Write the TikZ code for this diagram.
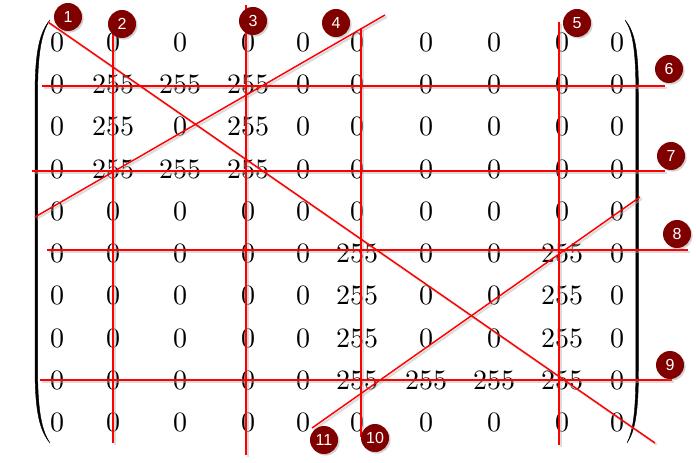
\documentclass[tikz,border=0pt]{standalone}
\usepackage{fontspec}
\newfontfamily\badgefont{Liberation Sans}
\newfontfamily\lmten{lmroman10-regular.otf}
\usetikzlibrary{shadows}
\definecolor{badgered}{HTML}{800000}
\tikzset{
  cell/.style={inner sep=0pt, font=\lmten\fontsize{21}{23}\selectfont},
  redline/.style={draw=red, line width=1.1pt},
  lineshadow/.style={draw=black!30, line width=1.6pt, opacity=0.45},
  badge/.style={circle, fill=badgered, minimum size=21pt, inner sep=0pt,
    text=white, font=\badgefont\fontsize{12}{13}\selectfont,
    drop shadow={shadow xshift=1.2pt, shadow yshift=-1.2pt, opacity=0.35}},
  paren/.style={fill=black, draw=black, line width=0.3pt}
}
\begin{document}
\begin{tikzpicture}[x=0.75pt, y=-0.75pt]
\useasboundingbox (0,0) rectangle (696,463);
\fill[white] (0,0) rectangle (696,463);
% matrix entries
\def\colx{{57,113,180,248,303,357,426,494,562,617}}
\foreach \r/\vals in {1/{0,0,0,0,0,0,0,0,0,0},
                      2/{0,255,255,255,0,0,0,0,0,0},
                      3/{0,255,0,255,0,0,0,0,0,0},
                      4/{0,255,255,255,0,0,0,0,0,0},
                      5/{0,0,0,0,0,0,0,0,0,0},
                      6/{0,0,0,0,0,255,0,0,255,0},
                      7/{0,0,0,0,0,255,0,0,255,0},
                      8/{0,0,0,0,0,255,0,0,255,0},
                      9/{0,0,0,0,0,255,255,255,255,0},
                      10/{0,0,0,0,0,0,0,0,0,0}} {
  \foreach \v [count=\c from 0] in \vals {
    \pgfmathsetmacro{\xx}{\colx[\c]}
    \pgfmathsetmacro{\yy}{42+42.33*(\r-1)}
    \node[cell] (m-\r-\c) at (\xx,\yy) {\v};
  }
}
% parentheses
\path[paren] (50,20) .. controls (40,32) and (35,50) .. (35,95) -- (35,368)
  .. controls (35,413) and (40,431) .. (50,443)
  .. controls (42,431) and (37.6,413) .. (37.6,368) -- (37.6,95)
  .. controls (37.6,50) and (42,32) .. (50,20) -- cycle;
\path[paren] (625,20) .. controls (635,32) and (638.5,50) .. (638.5,95) -- (638.5,368)
  .. controls (638.5,413) and (635,431) .. (627,443)
  .. controls (633,431) and (635.9,413) .. (635.9,368) -- (635.9,95)
  .. controls (635.9,50) and (633,32) .. (625,20) -- cycle;
% line end points
\coordinate (a1) at (48,22);   \coordinate (b1) at (655,443);
\coordinate (a2) at (113,32);  \coordinate (b2) at (113,443);
\coordinate (a3) at (246,5);   \coordinate (b3) at (246,455);
\coordinate (a4) at (35,217);  \coordinate (b4) at (385,15);
\coordinate (a5) at (559,22);  \coordinate (b5) at (559,445);
\coordinate (a6) at (42,86);   \coordinate (b6) at (665,86);
\coordinate (a7) at (32,171);  \coordinate (b7) at (665,171);
\coordinate (a8) at (47,250);  \coordinate (b8) at (688,250);
\coordinate (a9) at (40,380);  \coordinate (b9) at (672,380);
\coordinate (a10) at (361,28); \coordinate (b10) at (361,437);
\coordinate (a11) at (312,428);\coordinate (b11) at (640,197);
\foreach \i in {1,...,11} {
  \draw[lineshadow] ([shift={(1.8,1.8)}]a\i) -- ([shift={(1.8,1.8)}]b\i);
}
\foreach \i in {1,...,11} {
  \draw[redline] (a\i) -- (b\i);
}
% badges
\node[badge] (n1) at (68,17) {1};
\node[badge] (n2) at (122,24) {2};
\node[badge] (n3) at (253,21) {3};
\node[badge] (n4) at (336,23) {4};
\node[badge] (n5) at (577,23) {5};
\node[badge] (n6) at (669,69) {6};
\node[badge] (n7) at (671,156) {7};
\node[badge] (n8) at (677,234) {8};
\node[badge] (n9) at (670,365) {9};
\node[badge] (n10) at (375,438) {10};
\node[badge] (n11) at (324,440) {11};
\end{tikzpicture}
\end{document}
